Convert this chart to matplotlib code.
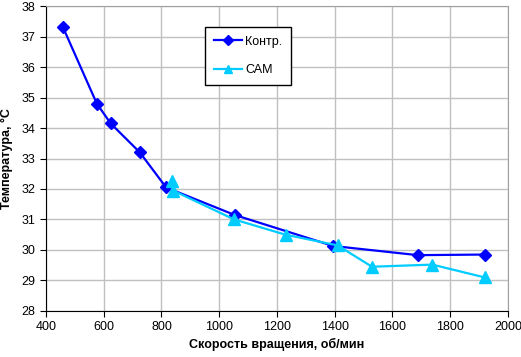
import matplotlib
matplotlib.use("Agg")
import matplotlib.pyplot as plt

# ── data ─────────────────────────────────────────────────────────────────────
ctrl_rpm  = [459, 576, 624, 725, 816, 1053, 1395, 1688, 1920]
ctrl_temp = [37.3, 34.8, 34.15, 33.2, 32.05, 31.15, 30.13, 29.83, 29.85]

cam_rpm  = [838, 840, 1052, 1230, 1410, 1529, 1738, 1919]
cam_temp = [32.25, 31.95, 31.0, 30.5, 30.15, 29.45, 29.52, 29.1]

x_ticks = [400, 600, 800, 1000, 1200, 1400, 1600, 1800, 2000]
y_ticks = list(range(28, 39))

plt.rcParams['font.family'] = ['Liberation Sans', 'DejaVu Sans']

fig = plt.figure(figsize=(5.21, 3.57), dpi=100)
ax = fig.add_axes([0.0883, 0.129, 0.8867, 0.854])

ax.plot(ctrl_rpm, ctrl_temp, color='#0000FF', lw=1.6, marker='D', ms=6.5,
        label='Контр.', zorder=3)
ax.plot(cam_rpm, cam_temp, color='#00CCFF', lw=1.6, marker='^', ms=8,
        label='САМ', zorder=3)

ax.set_xlim(400, 2000)
ax.set_ylim(28, 38)
ax.set_xticks(x_ticks)
ax.set_yticks(y_ticks)
ax.tick_params(labelsize=9, length=4, direction='out', color='black')
ax.grid(color='#C0C0C0', lw=1)
ax.set_axisbelow(True)

for s in ('top', 'right'):
    ax.spines[s].set_color('#A0A0A0')
for s in ('left', 'bottom'):
    ax.spines[s].set_color('black')

ax.set_xlabel('Скорость вращения, об/мин', fontsize=9, fontweight='bold', labelpad=3)
ax.set_ylabel('Температура, °С', fontsize=9, fontweight='bold', labelpad=6)

# legend box placed like the Excel original
leg = ax.legend(loc='upper left', bbox_to_anchor=(0.344, 0.931), fontsize=9,
                frameon=True, fancybox=False, framealpha=1, edgecolor='black',
                handlelength=2.3, labelspacing=1.3, borderpad=0.7,
                borderaxespad=0, handletextpad=0.2, markerscale=0.8)
leg.get_frame().set_linewidth(1)

fig.savefig('out.png', dpi=100, facecolor='white')
